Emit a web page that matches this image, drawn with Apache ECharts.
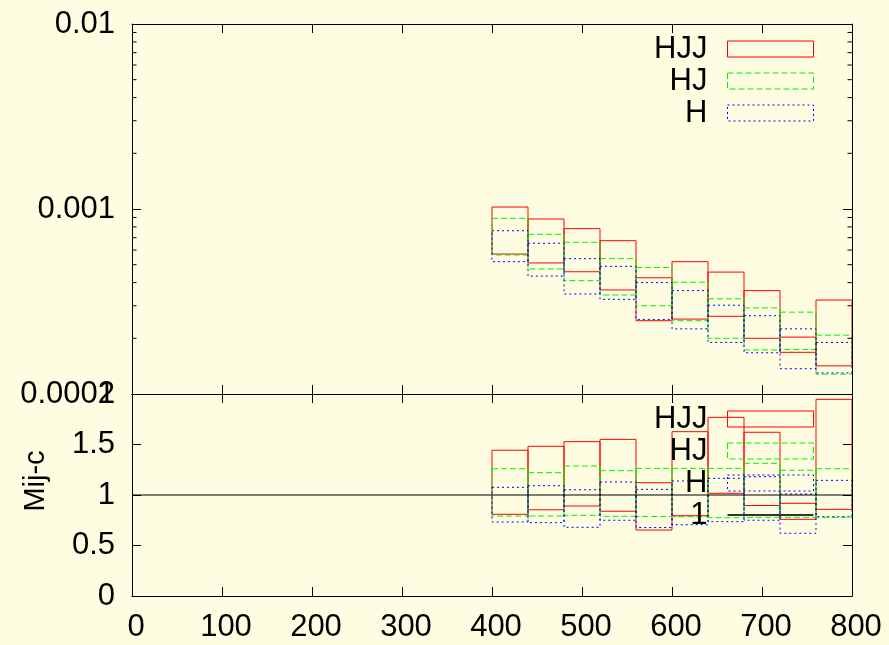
<!DOCTYPE html>
<html><head><meta charset="utf-8">
<script src="https://cdn.jsdelivr.net/npm/echarts@6/dist/echarts.min.js"></script>
<style>html,body{margin:0;padding:0;background:#fffde1}#c{width:889px;height:645px}</style>
</head><body><div id="c"></div>
<script>
// ---- data ----
const binStarts = [400,440,480,520,560,600,640,680,720,760];
const binWidth = 40;
// top panel (log scale): upper / lower edges of each band
const hjjTopHi = [0.001025,0.000883,0.000783,0.000674,0.000425,0.000519,0.000456,0.000362,0.000203,0.000322];
const hjjTopLo = [0.000571,0.000511,0.000458,0.000365,0.000249,0.000254,0.000263,0.000200,0.000168,0.000142];
const hjTopHi  = [0.000891,0.000730,0.000661,0.000539,0.000483,0.000402,0.000327,0.000292,0.000277,0.000208];
const hjTopLo  = [0.000564,0.000474,0.000410,0.000343,0.000300,0.000249,0.000200,0.000173,0.000174,0.000128];
const hTopHi   = [0.000763,0.000653,0.000539,0.000490,0.000400,0.000362,0.000302,0.000265,0.000225,0.000190];
const hTopLo   = [0.000519,0.000434,0.000347,0.000325,0.000253,0.000225,0.000190,0.000167,0.000137,0.000130];
// bottom panel (ratio)
const hjjRatioHi = [1.443,1.482,1.528,1.551,1.122,1.627,1.769,1.621,0.918,1.947];
const hjjRatioLo = [0.809,0.854,0.891,0.839,0.653,0.795,1.017,0.896,0.759,0.858];
const hjRatioHi  = [1.260,1.221,1.287,1.241,1.264,1.264,1.264,1.314,1.245,1.260];
const hjRatioLo  = [0.792,0.792,0.799,0.789,0.787,0.785,0.775,0.779,0.779,0.779];
const hRatioHi   = [1.076,1.092,1.052,1.129,1.056,1.139,1.165,1.181,1.010,1.145];
const hRatioLo   = [0.733,0.726,0.680,0.750,0.678,0.706,0.736,0.750,0.621,0.785];
const refLine = [[0,1],[800,1]];
const minorTickVals = [0.0002,0.0003,0.0004,0.0005,0.0006,0.0007,0.0008,0.0009,0.002,0.003,0.004,0.005,0.006,0.007,0.008,0.009];
const xTicks = {min:0, max:800, interval:100};

// ---- styles ----
const FONT = 'Liberation Sans, Arial, sans-serif';
const FS = 31;
const RED = '#ff0000', GREEN = '#00f000', BLUE = '#0000ff';
const DASH = [6,3], DOT = [2,3];

function boxSeries(name, lo, hi, color, dash, axisIdx) {
  return {
    name: name, type: 'custom', xAxisIndex: axisIdx, yAxisIndex: axisIdx,
    clip: true,
    itemStyle: {color: 'none', borderColor: color, borderWidth: 1},
    data: binStarts.map((s, i) => [s, s + binWidth, lo[i], hi[i]]),
    encode: {x: [0, 1], y: [2, 3]},
    renderItem: function (params, api) {
      const p0 = api.coord([api.value(0), api.value(3)]);
      const p1 = api.coord([api.value(1), api.value(2)]);
      return {
        type: 'rect',
        shape: {x: p0[0], y: p0[1], width: p1[0] - p0[0], height: p1[1] - p0[1]},
        style: {fill: 'none', stroke: color, lineWidth: 1, lineDash: dash}
      };
    }
  };
}

function xAxisDef(grid, pos, labels) {
  return {
    gridIndex: grid, type: 'value', position: pos, min: xTicks.min, max: xTicks.max, interval: xTicks.interval,
    axisLine: {show: true, onZero: false, lineStyle: {color: '#000', width: 1}},
    axisTick: {show: true, inside: true, length: 9, lineStyle: {color: '#000'}},
    axisLabel: {show: labels, fontSize: FS, fontFamily: FONT, color: '#000', margin: 16, padding: [0,0,0,8]},
    splitLine: {show: false}
  };
}

const legendText = {fontSize: FS, fontFamily: FONT, color: '#000', lineHeight: 32, padding: [0,15,0,0]};
function legItem(name, color, dash) {
  return {name: name, icon: 'rect',
    itemStyle: {color: 'transparent', borderColor: color, borderWidth: 1, borderType: dash}};
}

const chart = echarts.init(document.getElementById('c'), null, {renderer: 'canvas'});
chart.setOption({
  backgroundColor: '#fffde1',
  animation: false,
  textStyle: {fontFamily: FONT},
  grid: [
    {left: 132, right: 37, top: 24, height: 370},
    {left: 132, right: 37, top: 394, height: 202}
  ],
  xAxis: [
    xAxisDef(0, 'bottom', false),
    xAxisDef(0, 'top', false),
    xAxisDef(1, 'bottom', true),
    xAxisDef(1, 'top', false)
  ],
  yAxis: [
    {gridIndex: 0, type: 'log', logBase: 10, min: 0.0001, max: 0.01, position: 'left',
     axisLine: {show: true, onZero: false, lineStyle: {color: '#000'}},
     axisTick: {show: true, inside: true, length: 9, lineStyle: {color: '#000'}},
     axisLabel: {fontSize: FS, fontFamily: FONT, color: '#000', margin: 17,
       formatter: v => String(Number(Number(v).toPrecision(3)))},
     splitLine: {show: false}},
    {gridIndex: 0, type: 'log', logBase: 10, min: 0.0001, max: 0.01, position: 'right',
     axisLine: {show: true, onZero: false, lineStyle: {color: '#000'}},
     axisTick: {show: true, inside: true, length: 9, lineStyle: {color: '#000'}},
     axisLabel: {show: false}, splitLine: {show: false}},
    {gridIndex: 1, type: 'value', min: 0, max: 2, interval: 0.5, position: 'left',
     axisLine: {show: true, onZero: false, lineStyle: {color: '#000'}},
     axisTick: {show: true, inside: true, length: 9, lineStyle: {color: '#000'}},
     axisLabel: {fontSize: FS, fontFamily: FONT, color: '#000', margin: 17},
     splitLine: {show: false}},
    {gridIndex: 1, type: 'value', min: 0, max: 2, interval: 0.5, position: 'right',
     axisLine: {show: true, onZero: false, lineStyle: {color: '#000'}},
     axisTick: {show: true, inside: true, length: 9, lineStyle: {color: '#000'}},
     axisLabel: {show: false}, splitLine: {show: false}}
  ],
  legend: [
    {orient: 'vertical', align: 'right', top: 33, right: 75, padding: 0, itemGap: 0,
     itemWidth: 86, itemHeight: 16, selectedMode: false, textStyle: legendText,
     data: [legItem('HJJ', RED, 'solid'), legItem('HJ', GREEN, DASH), legItem('H', BLUE, DOT)]},
    {orient: 'vertical', align: 'right', top: 403, right: 75, padding: 0, itemGap: 0,
     itemWidth: 86, itemHeight: 16, selectedMode: false, textStyle: legendText,
     data: [legItem('HJJ', RED, 'solid'), legItem('HJ', GREEN, DASH), legItem('H', BLUE, DOT),
            {name: '1', icon: 'path://M0,7L86,7L86,9L0,9Z', itemStyle: {color: '#333', borderWidth: 0}}]}
  ],
  graphic: [
    {type: 'text', x: 36, y: 481, rotation: Math.PI / 2,
     style: {text: 'Mij-c', x: 0, y: 0, align: 'center', verticalAlign: 'middle',
             font: '29px ' + FONT, fill: '#000'}}
  ],
  series: [
    boxSeries('HJJ', hjjTopLo, hjjTopHi, RED, null, 0),
    boxSeries('HJ', hjTopLo, hjTopHi, GREEN, DASH, 0),
    boxSeries('H', hTopLo, hTopHi, BLUE, DOT, 0),
    {type: 'custom', xAxisIndex: 0, yAxisIndex: 0, silent: true, clip: false,
     data: minorTickVals.map(v => [v]), encode: {y: 0},
     renderItem: function (params, api) {
       const v = api.value(0);
       const l = api.coord([xTicks.min, v]);
       const r = api.coord([xTicks.max, v]);
       return {type: 'group', children: [
         {type: 'line', shape: {x1: l[0], y1: l[1], x2: l[0] + 4.5, y2: l[1]}, style: {stroke: '#000', lineWidth: 1}},
         {type: 'line', shape: {x1: r[0], y1: r[1], x2: r[0] - 4.5, y2: r[1]}, style: {stroke: '#000', lineWidth: 1}}
       ]};
     }},
    boxSeries('HJJ', hjjRatioLo, hjjRatioHi, RED, null, 2),
    boxSeries('HJ', hjRatioLo, hjRatioHi, GREEN, DASH, 2),
    boxSeries('H', hRatioLo, hRatioHi, BLUE, DOT, 2),
    {name: '1', type: 'line', xAxisIndex: 2, yAxisIndex: 2, data: refLine, symbol: 'none',
     lineStyle: {color: '#000', width: 1}}
  ]
});
</script></body></html>
